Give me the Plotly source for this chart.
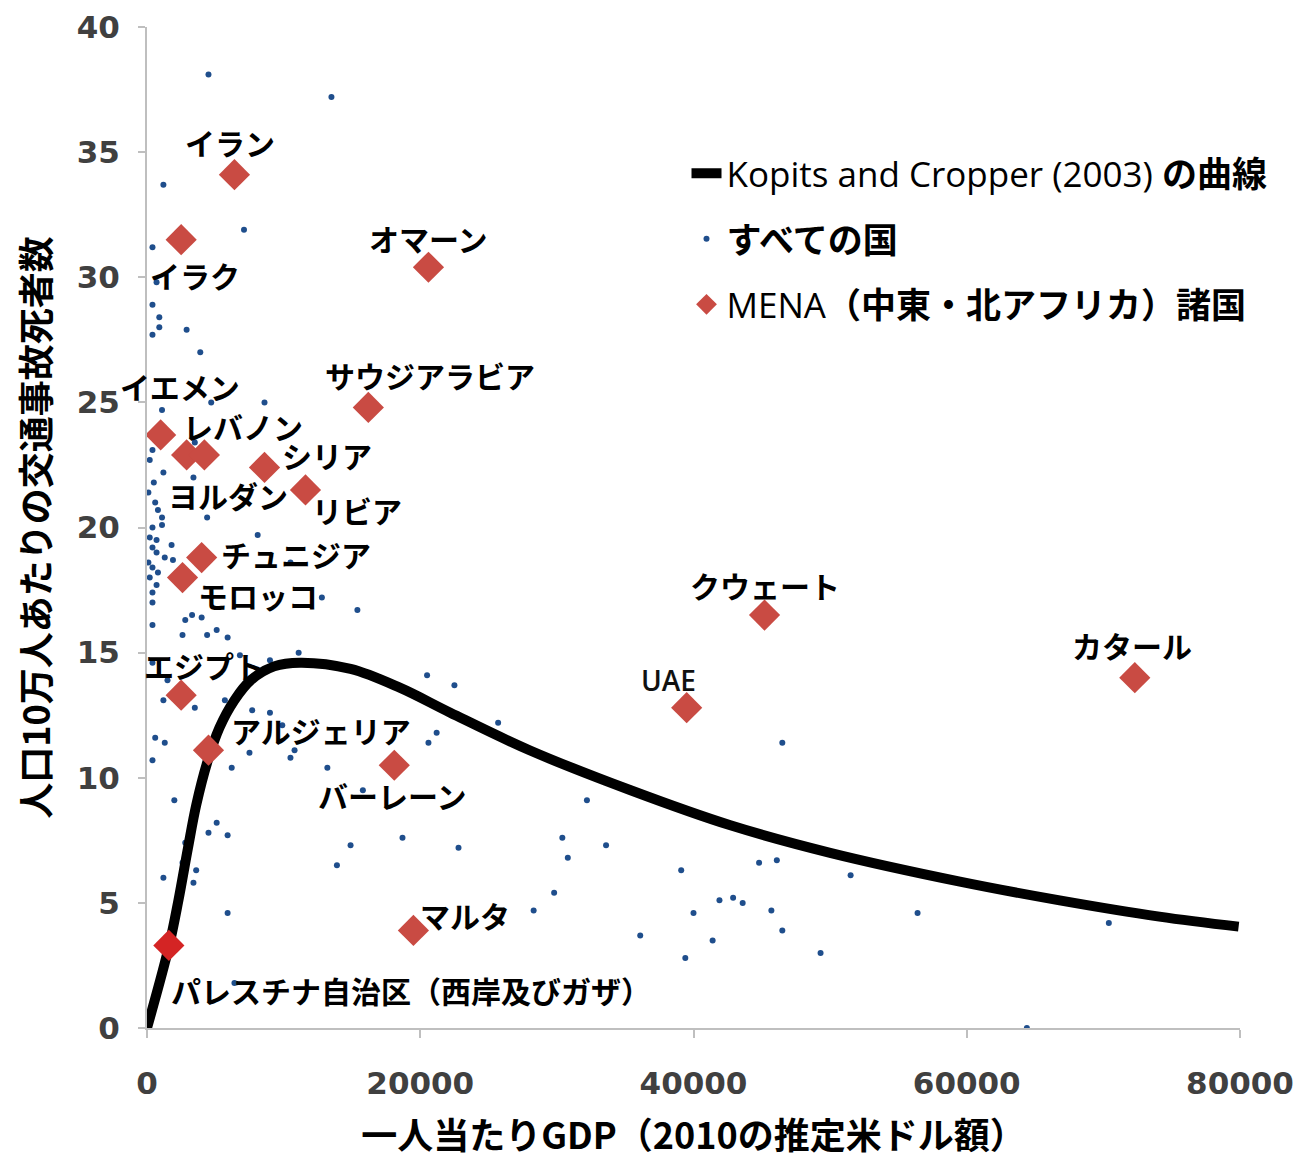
import plotly.graph_objects as go

# ---------------- data ----------------
# Kopits and Cropper (2003) curve
curve_gdp = [0, 1600, 2300, 3000, 3600, 4400, 5300, 6400, 7600, 9300, 11200,
             14900, 18500, 22200, 28000, 35400, 42700, 50000, 59500, 66800,
             74100, 79900]
curve_rate = [0.0, 3.25, 5.1, 7.2, 8.9, 10.6, 12.0, 13.1, 13.9, 14.45, 14.6,
              14.35, 13.6, 12.6, 11.1, 9.5, 8.1, 7.0, 5.85, 5.1, 4.45, 4.05]

# all countries
all_gdp = [4500, 13500, 1200, 7100, 400, 700, 400, 900, 900, 400, 2900, 3900,
           4700, 1100, 8600, 3500, 400, 200, 1200, 3400, 500, 100, 600, 800,
           1100, 4400, 400, 1100, 200, 700, 1800, 400, 700, 1300, 1900, 100,
           400, 800, 200, 700, 400, 400, 8100, 10500, 12800, 15400, 2800,
           3300, 4000, 400, 2600, 4400, 5100, 5900, 6800, 400, 1500, 9000,
           11100, 20500, 22500, 1200, 3500, 5700, 7700, 9000, 9900, 600,
           1300, 400, 7500, 10800, 10500, 6200, 13200, 21200, 20600, 25700,
           15800, 2000, 5100, 4500, 5900, 2800, 2600, 3600, 1200, 3400, 5900,
           6400, 18700, 14900, 13900, 22800, 32200, 30400, 30800, 33600,
           29800, 28300, 36100, 39100, 40000, 41900, 42900, 43600, 39400,
           41400, 42800, 44800, 46100, 45700, 46500, 46500, 49300, 51500,
           56400, 64400, 70400]
all_rate = [38.1, 37.2, 33.7, 31.9, 31.2, 29.8, 28.9, 28.4, 28.0, 27.7, 27.9,
            27.0, 25.0, 24.7, 25.0, 23.4, 23.1, 22.7, 22.2, 22.0, 21.8, 21.4,
            21.0, 20.7, 20.4, 20.4, 20.0, 20.1, 19.6, 19.5, 19.3, 19.2, 19.0,
            18.8, 18.7, 18.6, 18.4, 18.2, 18.0, 17.7, 17.4, 17.0, 19.7, 18.6,
            17.2, 16.7, 16.3, 16.5, 16.4, 16.1, 15.7, 15.7, 15.9, 15.6, 14.9,
            14.6, 13.9, 14.7, 15.0, 14.1, 13.7, 13.1, 12.8, 13.1, 12.7, 12.6,
            12.1, 11.6, 11.4, 10.7, 11.0, 11.1, 10.8, 10.4, 10.4, 11.8, 11.4,
            12.2, 9.5, 9.1, 8.2, 7.8, 7.7, 7.4, 6.6, 6.3, 6.0, 5.8, 4.6, 1.8,
            7.6, 7.3, 6.5, 7.2, 9.1, 7.6, 6.8, 7.3, 5.4, 4.7, 3.7, 6.3, 4.6,
            5.1, 5.2, 5.0, 2.8, 3.5, 8.1, 6.6, 6.7, 4.7, 3.9, 11.4, 3.0, 6.1,
            4.6, 0.0, 4.2]

# MENA countries
mena_names = ["イラン", "イラク", "オマーン", "サウジアラビア", "イエメン",
              "ヨルダン", "レバノン", "シリア", "リビア", "チュニジア",
              "モロッコ", "エジプト", "アルジェリア", "バーレーン", "マルタ",
              "パレスチナ自治区（西岸及びガザ）", "UAE", "クウェート", "カタール"]
mena_gdp = [6400, 2500, 20600, 16200, 1000, 2900, 4200, 8600, 11600, 4000,
            2600, 2500, 4500, 18100, 19500, 1600, 39500, 45200, 72300]
mena_rate = [34.1, 31.5, 30.4, 24.8, 23.7, 22.9, 22.9, 22.4, 21.5, 18.8,
             18.0, 13.3, 11.1, 10.5, 3.9, 3.3, 12.8, 16.5, 14.0]

# label anchor positions (data coordinates, text centres)
label_gdp = [6100, 3500, 20600, 20700, 2400, 5900, 7000, 13200, 15400, 10900,
             8100, 4200, 12700, 18000, 23300, 19300, 38200, 45200, 72100]
label_rate = [35.4, 30.1, 31.55, 26.1, 25.65, 21.3, 24.05, 22.9, 20.7, 18.95,
              17.3, 14.5, 11.9, 9.3, 4.5, 1.5, 13.9, 17.7, 15.3]

x_ticks = [0, 20000, 40000, 60000, 80000]
y_ticks = [0, 5, 10, 15, 20, 25, 30, 35, 40]

x_title = "一人当たりGDP（2010の推定米ドル額）"
y_title = "人口10万人あたりの交通事故死者数"

JP = "Noto Sans CJK JP"

# ---------------- figure ----------------
fig = go.Figure()

fig.add_trace(go.Scatter(
    x=all_gdp, y=all_rate, mode="markers",
    name="<b>すべての国</b>",
    marker=dict(size=6, color="#1f4e8c", line=dict(width=0)),
    legendgroup="b", legendrank=2,
))

fig.add_trace(go.Scatter(
    x=curve_gdp, y=curve_rate, mode="lines",
    name="Kopits and Cropper (2003) <b>の曲線</b>",
    line=dict(color="black", width=10, shape="spline", smoothing=1.0),
    legendgroup="a", legendrank=1,
))

mena_colors = ["#c94b43"] * len(mena_gdp)
mena_colors[15] = "#d42424"
fig.add_trace(go.Scatter(
    x=mena_gdp, y=mena_rate, mode="markers",
    name="MENA<b>（中東・北アフリカ）諸国</b>",
    marker=dict(symbol="diamond", size=24, color=mena_colors,
                line=dict(width=0)),
    legendgroup="c", legendrank=3,
))

for name, lx, ly in zip(mena_names, label_gdp, label_rate):
    if name == "UAE":
        f = dict(family="Open Sans", size=28, color="#111111", weight=600)
    else:
        f = dict(family=JP, size=30, color="#000000", weight="bold")
    fig.add_annotation(x=lx, y=ly, xref="x", yref="y", text=name,
                       showarrow=False, font=f, xanchor="center",
                       yanchor="middle")

# the page adds an 8px body margin, so the figure is 8px smaller than the
# window and the margins are shifted accordingly
fig.update_layout(
    width=1295, height=1151,
    margin=dict(l=139, r=63, t=19, b=131, autoexpand=False),
    paper_bgcolor="white", plot_bgcolor="white",
    font=dict(family=JP, color="black"),
    legend=dict(
        x=0.4936, y=0.883, xanchor="left", yanchor="top",
        bgcolor="rgba(255,255,255,0)",
        font=dict(family="Open Sans, " + JP, size=35, color="black"),
        traceorder="grouped", tracegroupgap=17,
        itemsizing="trace",
    ),
    xaxis=dict(
        range=[0, 80000], tickvals=x_ticks,
        ticktext=[str(v) for v in x_ticks],
        showgrid=False, zeroline=False, automargin=False,
        showline=True, linecolor="#bfbfbf", linewidth=2,
        ticks="outside", ticklen=8, tickcolor="#bfbfbf", tickwidth=2,
        tickfont=dict(family="DejaVu Sans", size=31, color="#404040",
                      weight="bold"),
        ticklabelstandoff=19, ticklabeloverflow="allow",
        title=dict(text=x_title, standoff=27,
                   font=dict(family=JP, size=36, color="black",
                             weight="bold")),
    ),
    yaxis=dict(
        range=[0, 40], tickvals=y_ticks,
        ticktext=[str(v) for v in y_ticks],
        showgrid=False, zeroline=False, automargin=False,
        showline=True, linecolor="#bfbfbf", linewidth=2,
        ticks="outside", ticklen=7, tickcolor="#bfbfbf", tickwidth=2,
        tickfont=dict(family="DejaVu Sans", size=31, color="#404040",
                      weight="bold"),
        ticklabelstandoff=12, ticklabeloverflow="allow",
        title=dict(text=y_title, standoff=24,
                   font=dict(family=JP, size=36, color="black",
                             weight="bold")),
    ),
)

fig.write_html("out.html")
